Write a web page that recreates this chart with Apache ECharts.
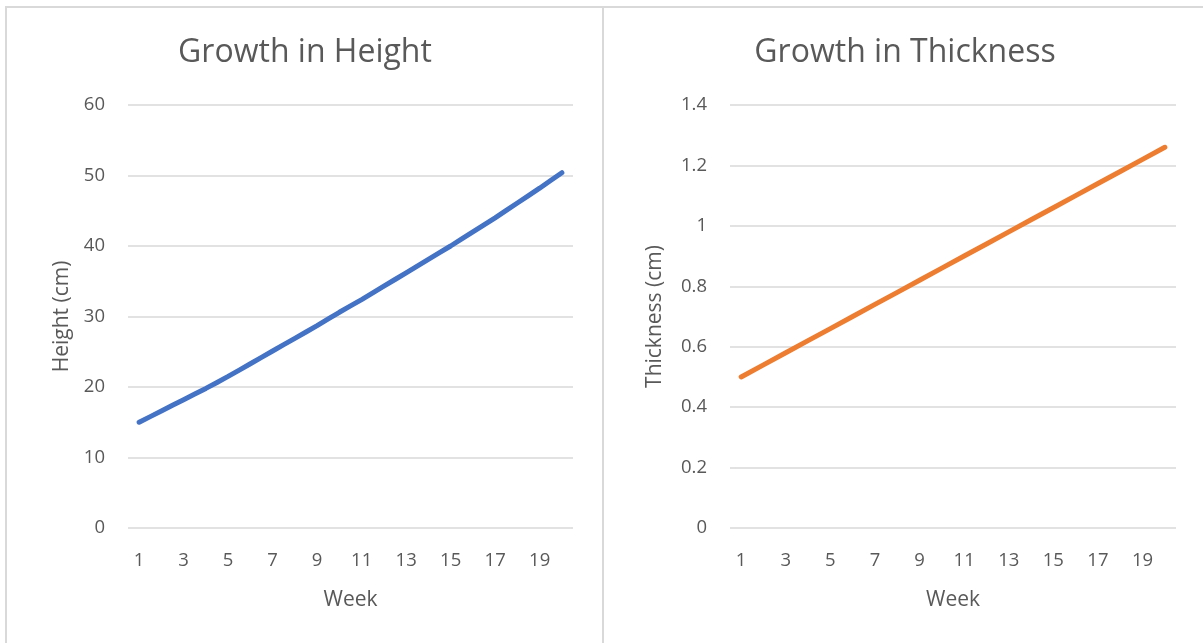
<!DOCTYPE html>
<html>
<head>
<meta charset="utf-8">
<script src="https://cdn.jsdelivr.net/npm/echarts@6/dist/echarts.min.js"></script>
<style>
  html, body { margin: 0; padding: 0; background: #fff; }
  #chart { width: 1203px; height: 643px; }
</style>
</head>
<body>
<div id="chart"></div>
<script>
  // weeks 1..20
  var weeks = ['1','2','3','4','5','6','7','8','9','10','11','12','13','14','15','16','17','18','19','20'];
  // height in cm
  var heightCm = [15.0, 16.6, 18.2, 19.8, 21.5, 23.3, 25.1, 26.9, 28.7, 30.6,
                  32.4, 34.3, 36.2, 38.1, 40.0, 42.0, 44.0, 46.1, 48.2, 50.4];
  // thickness in cm (right panel)
  var thicknessCm = [0.50, 0.54, 0.58, 0.62, 0.66, 0.70, 0.74, 0.78, 0.82, 0.86,
                     0.90, 0.94, 0.98, 1.02, 1.06, 1.10, 1.14, 1.18, 1.22, 1.26];
  var titles = ['Growth in Height', 'Growth in Thickness'];
  var yNames = ['Height (cm)', 'Thickness (cm)'];

  var font = 'Open Sans';
  var txt = '#595959';
  var grid = '#d9d9d9';

  var chart = echarts.init(document.getElementById('chart'));

  function xAxis(i) {
    return {
      gridIndex: i,
      type: 'category',
      data: weeks,
      boundaryGap: true,
      name: 'Week',
      nameLocation: 'middle',
      nameGap: 62,
      nameTextStyle: { color: txt, fontSize: 21, fontFamily: font },
      axisLine: { show: false },
      axisTick: { show: false },
      axisLabel: { interval: 1, color: txt, fontSize: 18.5, fontFamily: font, margin: 23 },
      splitLine: { show: false }
    };
  }
  function yAxis(i, max, step, gap) {
    return {
      gridIndex: i,
      type: 'value',
      min: 0,
      max: max,
      interval: step,
      name: yNames[i],
      nameLocation: 'middle',
      nameGap: gap,
      nameTextStyle: { color: txt, fontSize: 21, fontFamily: font },
      axisLine: { show: false },
      axisTick: { show: false },
      axisLabel: { color: txt, fontSize: 18.5, fontFamily: font, margin: 23 },
      splitLine: { lineStyle: { color: grid, width: 1.5 } }
    };
  }

  chart.setOption({
    animation: false,
    backgroundColor: '#fff',
    graphic: [
      { type: 'rect', shape: { x: 6, y: 7, width: 597, height: 660 },
        style: { fill: 'none', stroke: grid, lineWidth: 2 } },
      { type: 'rect', shape: { x: 603, y: 7, width: 620, height: 660 },
        style: { fill: 'none', stroke: grid, lineWidth: 2 } }
    ],
    title: [
      { text: titles[0], left: 305, top: 37, textAlign: 'center', padding: 0,
        textStyle: { color: txt, fontSize: 32, fontWeight: 'normal', fontFamily: font } },
      { text: titles[1], left: 905, top: 37, textAlign: 'center', padding: 0,
        textStyle: { color: txt, fontSize: 32, fontWeight: 'normal', fontFamily: font } }
    ],
    grid: [
      { left: 128, top: 105, width: 445, height: 423 },
      { left: 730, top: 105, width: 446, height: 423 }
    ],
    xAxis: [xAxis(0), xAxis(1)],
    yAxis: [yAxis(0, 60, 10, 55), yAxis(1, 1.4, 0.2, 64)],
    series: [
      { type: 'line', xAxisIndex: 0, yAxisIndex: 0, data: heightCm, smooth: 0.2,
        showSymbol: false, lineStyle: { color: '#4472C4', width: 5, cap: 'round' } },
      { type: 'line', xAxisIndex: 1, yAxisIndex: 1, data: thicknessCm,
        showSymbol: false, lineStyle: { color: '#ED7D31', width: 5, cap: 'round' } }
    ]
  });
</script>
</body>
</html>
